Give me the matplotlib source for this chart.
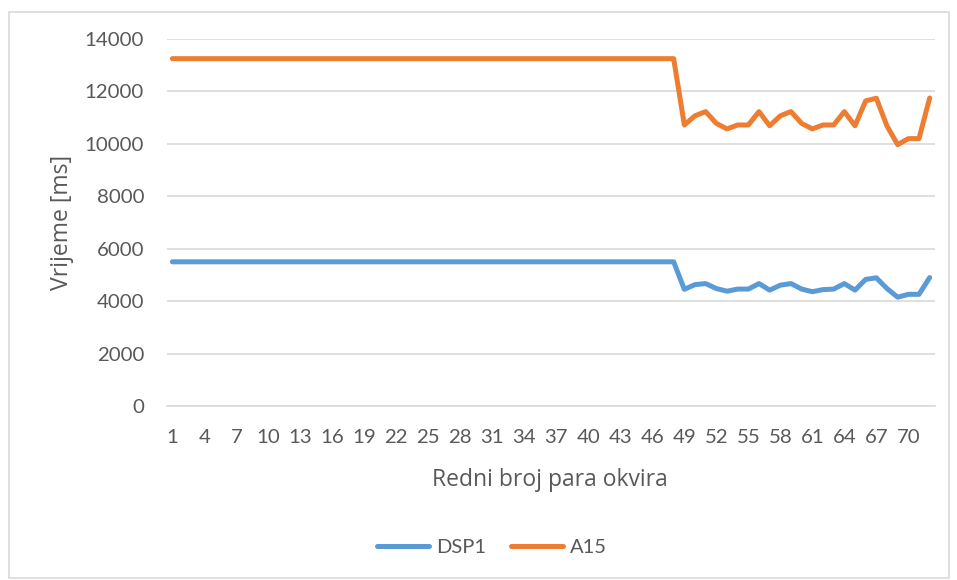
import matplotlib
matplotlib.use("Agg")
import matplotlib.pyplot as plt
from matplotlib.patches import Rectangle
from matplotlib.lines import Line2D

plt.rcParams['font.family'] = ['Lato', 'DejaVu Sans']

frames = list(range(1, 73))
dsp1 = [5500] * 48 + [4450, 4630, 4670, 4480, 4380, 4460, 4460, 4670, 4420, 4610,
                      4670, 4460, 4360, 4440, 4460, 4670, 4420, 4830, 4890, 4480,
                      4150, 4260, 4260, 4900]
a15 = [13250] * 48 + [10720, 11070, 11230, 10780, 10570, 10720, 10720, 11230, 10690, 11070,
                      11230, 10780, 10570, 10720, 10720, 11230, 10690, 11640, 11740, 10680,
                      9970, 10200, 10200, 11750]
series_names = ["DSP1", "A15"]
tick_labels = [str(i) for i in range(1, 71, 3)]
x_title = "Redni broj para okvira"
y_title = "Vrijeme [ms]"

text_color = "#595959"
blue = "#5B9BD5"
orange = "#ED7D31"

fig = plt.figure(figsize=(9.57, 5.8), dpi=100)
ax = fig.add_axes([167/957, 1-406/580, (935-167)/957, (406-39)/580])

x = list(range(len(frames)))
ax.plot(x, dsp1, color=blue, lw=3.6, solid_capstyle='round', solid_joinstyle='round', label=series_names[0])
ax.plot(x, a15, color=orange, lw=3.6, solid_capstyle='round', solid_joinstyle='round', label=series_names[1])

ax.set_xlim(-0.5, len(frames) - 0.5)
ax.set_ylim(0, 14000)
ax.set_yticks(range(0, 14001, 2000))
ax.set_xticks([frames.index(int(t)) for t in tick_labels])
ax.set_xticklabels(tick_labels)
ax.grid(axis='y', color="#d9d9d9", lw=1.2)
ax.set_axisbelow(True)
for s in ['top', 'right', 'left']:
    ax.spines[s].set_visible(False)
ax.spines['bottom'].set_color("#d9d9d9")
ax.spines['bottom'].set_linewidth(1.2)
ax.tick_params(axis='both', length=0, colors=text_color, labelsize=14.7)
ax.tick_params(axis='y', pad=16.5)
ax.tick_params(axis='x', pad=16.5)

# axis titles placed in figure coordinates, sized to the reference's extents
renderer = fig.canvas.get_renderer()

def fitted_text(xp, yp, s, target_px, rotation=0):
    t = fig.text(xp / 957, 1 - yp / 580, s, ha='center', va='center', rotation=rotation,
                 color=text_color, fontsize=16, family=['Open Sans', 'DejaVu Sans'])
    bb = t.get_window_extent(renderer=renderer)
    cur = bb.height if rotation else bb.width
    t.set_fontsize(16 * target_px / cur)
    return t

fitted_text(550, 480, x_title, 236)
fitted_text(62, 222, y_title, 135, rotation=90)

fig.legend(handles=[Line2D([], [], color=blue, lw=3.6, solid_capstyle='round'),
                    Line2D([], [], color=orange, lw=3.6, solid_capstyle='round')],
           labels=series_names, loc='center', bbox_to_anchor=(492/957, 1-547/580),
           ncol=2, frameon=False, fontsize=14.5, handlelength=2.6, handletextpad=0.35,
           columnspacing=1.2, labelcolor=text_color)

fig.patches.append(Rectangle((9/957, 2/580), 940/957, 566/580, transform=fig.transFigure,
                             fill=False, edgecolor="#d9d9d9", lw=1.2))

fig.savefig("out.png", dpi=100)
